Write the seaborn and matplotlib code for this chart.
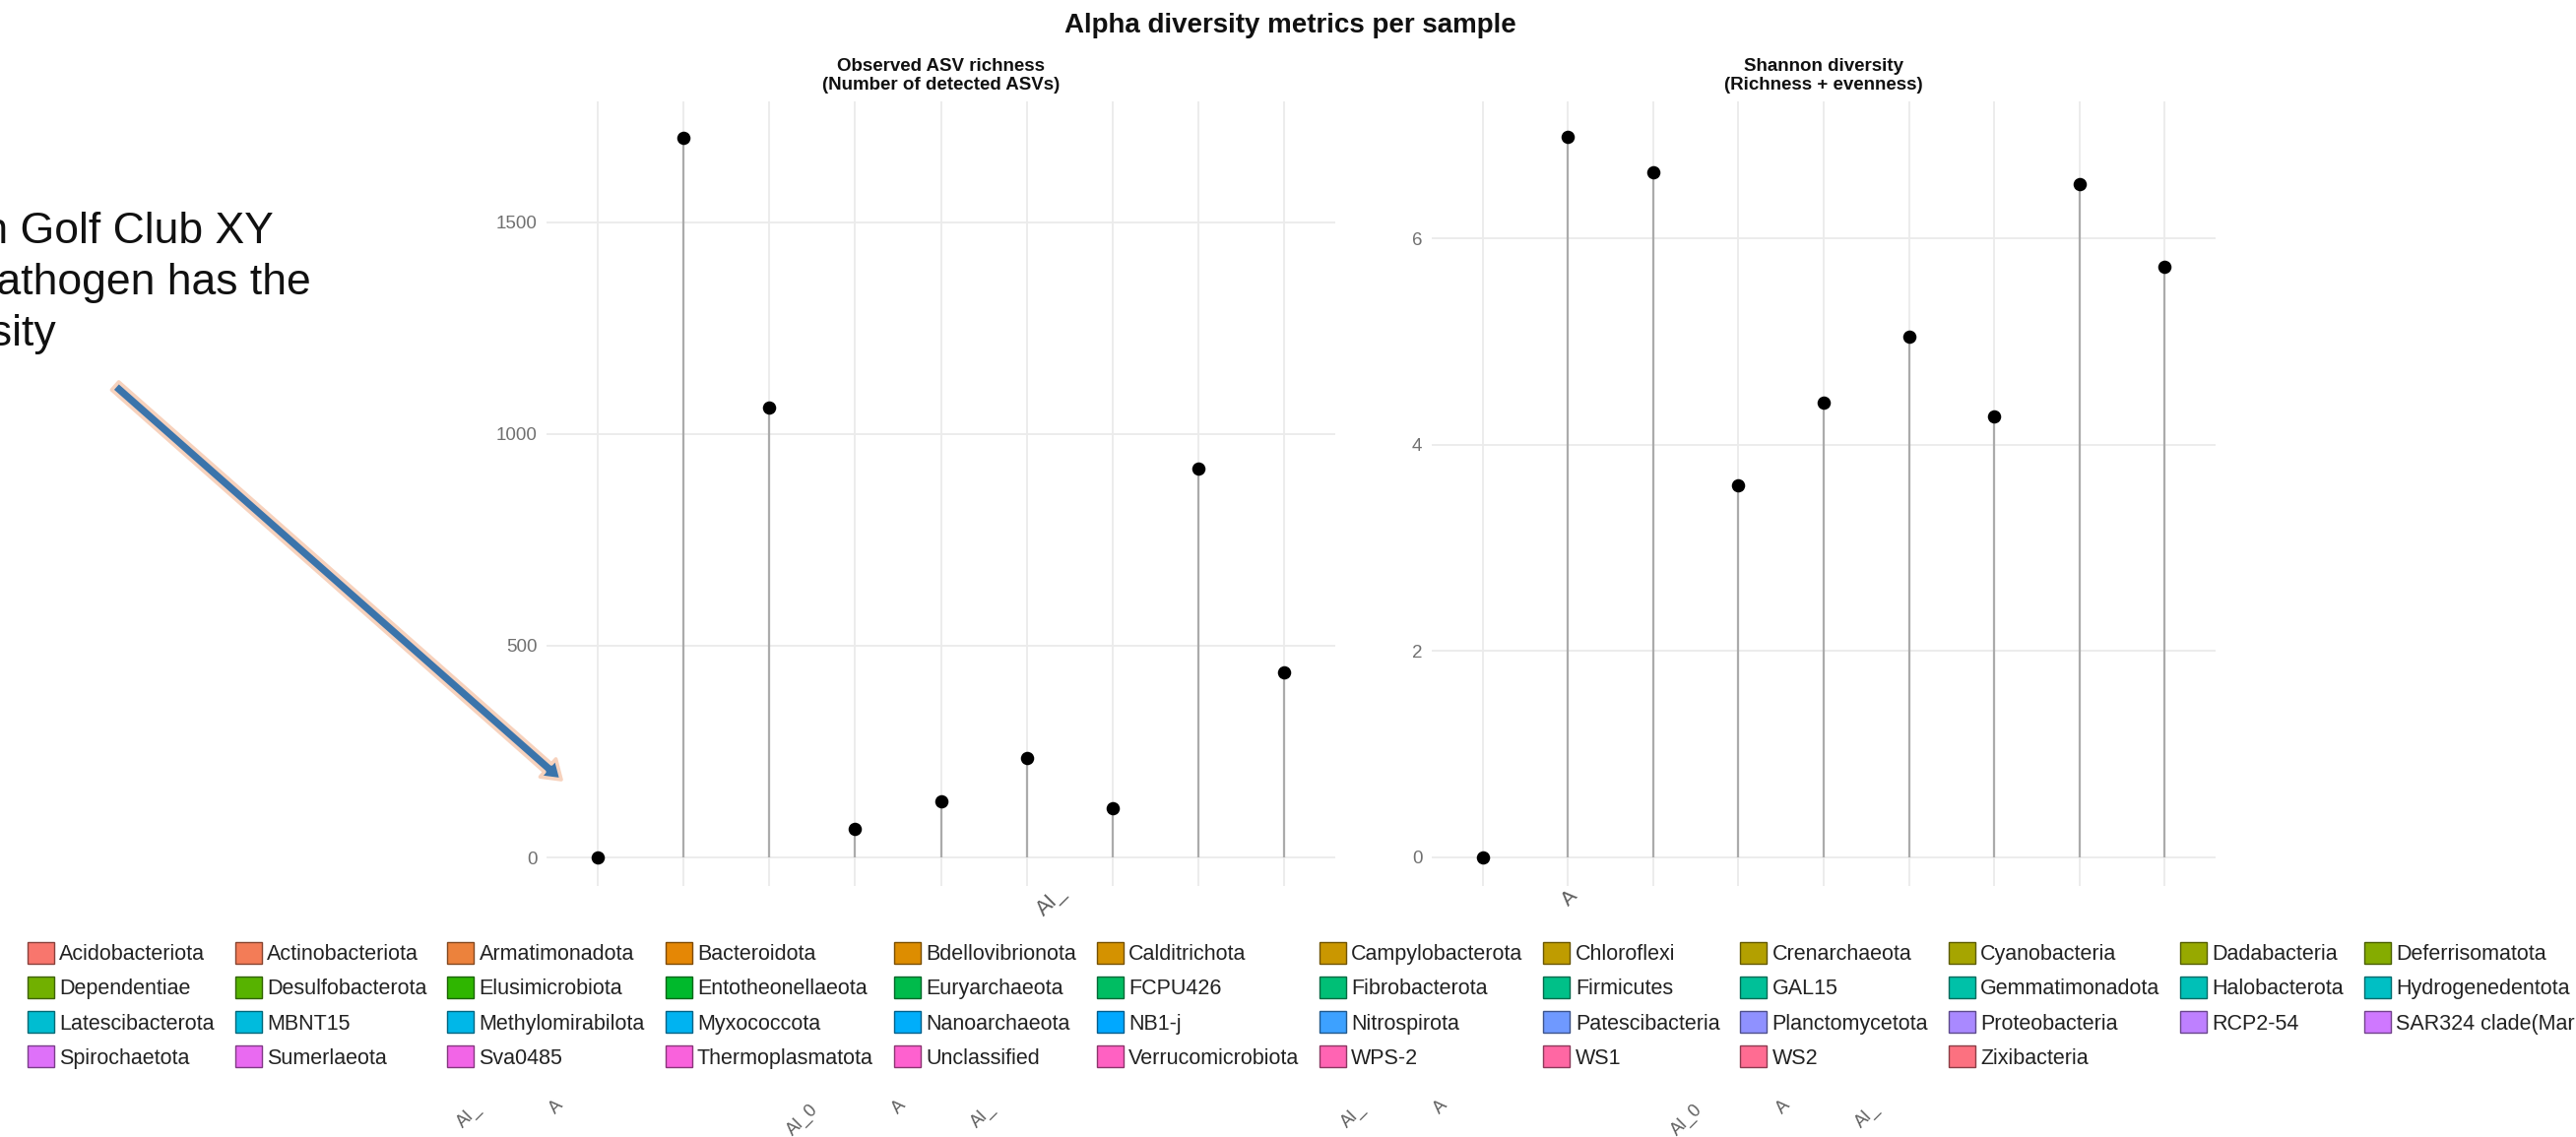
import numpy as np
import pandas as pd
import matplotlib
matplotlib.use("Agg")
import matplotlib.pyplot as plt
from matplotlib.patches import Patch, FancyArrowPatch
import seaborn as sns

# ---- data -------------------------------------------------------------
samples = ["AI_01", "AI_02", "AI_03", "AI_04", "AI_05", "AI_06", "AI_07", "AI_08", "AI_09"]
observed_richness = [0, 1698, 1062, 67, 133, 234, 116, 919, 438]
shannon_index = [0, 6.99, 6.64, 3.61, 4.41, 5.05, 4.28, 6.53, 5.73]

richness_ticks = [0, 500, 1000, 1500]
shannon_ticks = [0, 2, 4, 6]

phyla = [
    "Acidobacteriota", "Actinobacteriota", "Armatimonadota", "Bacteroidota",
    "Bdellovibrionota", "Calditrichota", "Campylobacterota", "Chloroflexi",
    "Crenarchaeota", "Cyanobacteria", "Dadabacteria", "Deferrisomatota",
    "Dependentiae", "Desulfobacterota", "Elusimicrobiota", "Entotheonellaeota",
    "Euryarchaeota", "FCPU426", "Fibrobacterota", "Firmicutes",
    "GAL15", "Gemmatimonadota", "Halobacterota", "Hydrogenedentota",
    "Latescibacterota", "MBNT15", "Methylomirabilota", "Myxococcota",
    "Nanoarchaeota", "NB1-j", "Nitrospirota", "Patescibacteria",
    "Planctomycetota", "Proteobacteria", "RCP2-54", "SAR324 clade(Marine group B)",
    "Spirochaetota", "Sumerlaeota", "Sva0485", "Thermoplasmatota",
    "Unclassified", "Verrucomicrobiota", "WPS-2", "WS1",
    "WS2", "Zixibacteria",
]

note_lines = ["Sample taken in Golf Club XY", "with the pathogen has the", "lowest diversity"]
tick_fragments = ["AI_", "A", "AI_0", "A", "AI_"]


# ---- helpers ----------------------------------------------------------
def hcl_hex(h, c=100.0, l=65.0):
    """Polar-Luv (HCL) colour to sRGB hex, D65 white point."""
    hr = np.deg2rad(h)
    U, V = c * np.cos(hr), c * np.sin(hr)
    Xn, Yn, Zn = 95.047, 100.0, 108.883
    den = Xn + 15 * Yn + 3 * Zn
    un, vn = 4 * Xn / den, 9 * Yn / den
    Y = Yn * ((l + 16) / 116) ** 3
    u = U / (13 * l) + un
    v = V / (13 * l) + vn
    X = Y * 9 * u / (4 * v)
    Z = Y * (12 - 3 * u - 20 * v) / (4 * v)
    x, y, z = X / 100, Y / 100, Z / 100
    rgb = np.array([
        3.240479 * x - 1.537150 * y - 0.498535 * z,
        -0.969256 * x + 1.875992 * y + 0.041556 * z,
        0.055648 * x - 0.204043 * y + 1.057311 * z,
    ])
    rgb = np.where(rgb > 0.0031308, 1.055 * np.clip(rgb, 0, None) ** (1 / 2.4) - 0.055, 12.92 * rgb)
    rgb = np.clip(rgb, 0, 1)
    return matplotlib.colors.to_hex(rgb)


def hue_palette(n):
    return [hcl_hex(15 + i * 360.0 / n) for i in range(n)]


# ---- style ------------------------------------------------------------
sns.set_style("white")
plt.rcParams["font.family"] = ["Liberation Sans", "DejaVu Sans"]

W, H = 2616, 1155
fig = plt.figure(figsize=(W / 100, H / 100), dpi=100)
fig.patch.set_facecolor("white")


def px(x, y):
    return x / W, 1 - y / H


df = pd.DataFrame({"sample": samples, "richness": observed_richness, "shannon": shannon_index})

panels = [
    ("richness", (555, 801), (-67, 1785), richness_ticks,
     "Observed ASV richness\n(Number of detected ASVs)"),
    ("shannon", (1454, 796), (-0.277, 7.33), shannon_ticks,
     "Shannon diversity\n(Richness + evenness)"),
]

for col, (x0, w), ylim, ticks, title in panels:
    ax = fig.add_axes([x0 / W, 1 - 900 / H, w / W, 797 / H])
    ax.vlines(df["sample"], 0, df[col], color="#ababab", lw=1.6, zorder=2)
    sns.scatterplot(data=df, x="sample", y=col, ax=ax, color="black", s=95,
                    linewidth=0, zorder=3, legend=False)
    ax.set_xlim(-0.6, len(samples) - 0.4)
    ax.set_ylim(*ylim)
    ax.set_yticks(ticks)
    ax.grid(True, color="#ebebeb", lw=1.3, zorder=0)
    ax.set_axisbelow(True)
    ax.tick_params(axis="both", length=0)
    ax.tick_params(axis="y", pad=7, labelsize=13.5, labelcolor="#707070")
    ax.set_xticklabels([])
    ax.set_xlabel("")
    ax.set_ylabel("")
    for s in ax.spines.values():
        s.set_visible(False)
    cx, cy = px(x0 + w / 2, 77)
    fig.text(cx, cy, title, ha="center", va="center", fontsize=13.5,
             fontweight="bold", linespacing=1.2, color="#111111")

fig.text(*px(1310, 26), "Alpha diversity metrics per sample", ha="center", va="center",
         fontsize=20, fontweight="bold", color="#111111")

# ---- callout note and arrow -------------------------------------------
for line, xr, yc in zip(note_lines, [278, 316, 57], [236, 288, 340]):
    fig.text(*px(xr, yc), line, ha="right", va="center", fontsize=32, color="#111111")

arrow = FancyArrowPatch(px(117, 392), px(570, 792), transform=fig.transFigure,
                        arrowstyle="simple,head_width=1.35,head_length=1.0,tail_width=0.6",
                        mutation_scale=13, facecolor="#3b74ab", edgecolor="#f7d2bd",
                        lw=2.6, shrinkA=0, shrinkB=0, zorder=5)
fig.add_artist(arrow)

# ---- rotated sample-label remnants -------------------------------------
frag_color = "#5e5e5e"
for xs in ([476, 565, 815, 913, 998], [1374, 1463, 1713, 1811, 1896]):
    for frag, x in zip(tick_fragments, xs):
        y = 1138 if frag == "AI_0" else (1125 if frag == "A" else 1133)
        fig.text(*px(x, y), frag, rotation=45, ha="center", va="center",
                 fontsize=13, color=frag_color)
fig.text(*px(1068, 915), "AI_", rotation=45, ha="center", va="center",
         fontsize=16, color=frag_color)
fig.text(*px(1594, 912), "A", rotation=45, ha="center", va="center",
         fontsize=15, color=frag_color)

# ---- phylum colour legend (row-major order over 12 columns) -------------
colors = hue_palette(len(phyla))
ncol = 12
nrows, nlarge = divmod(len(phyla), ncol)
rows_per_col = [nrows + 1] * nlarge + [nrows] * (ncol - nlarge)
order = [r * ncol + c for c in range(ncol) for r in range(rows_per_col[c])]

handles = []
for i in order:
    rgb = np.array(matplotlib.colors.to_rgb(colors[i]))
    handles.append(Patch(facecolor=colors[i], edgecolor=rgb * 0.55, linewidth=1.0,
                         label=phyla[i]))

fig.legend(handles=handles, loc="upper left", bbox_to_anchor=px(28, 957),
           bbox_transform=fig.transFigure, ncol=ncol, frameon=False,
           fontsize=15.5, handlelength=1.25, handleheight=1.2, handletextpad=0.25,
           columnspacing=0.97, labelspacing=0.55, borderpad=0, borderaxespad=0,
           labelcolor="#222222")

fig.savefig("out.png", dpi=100)
